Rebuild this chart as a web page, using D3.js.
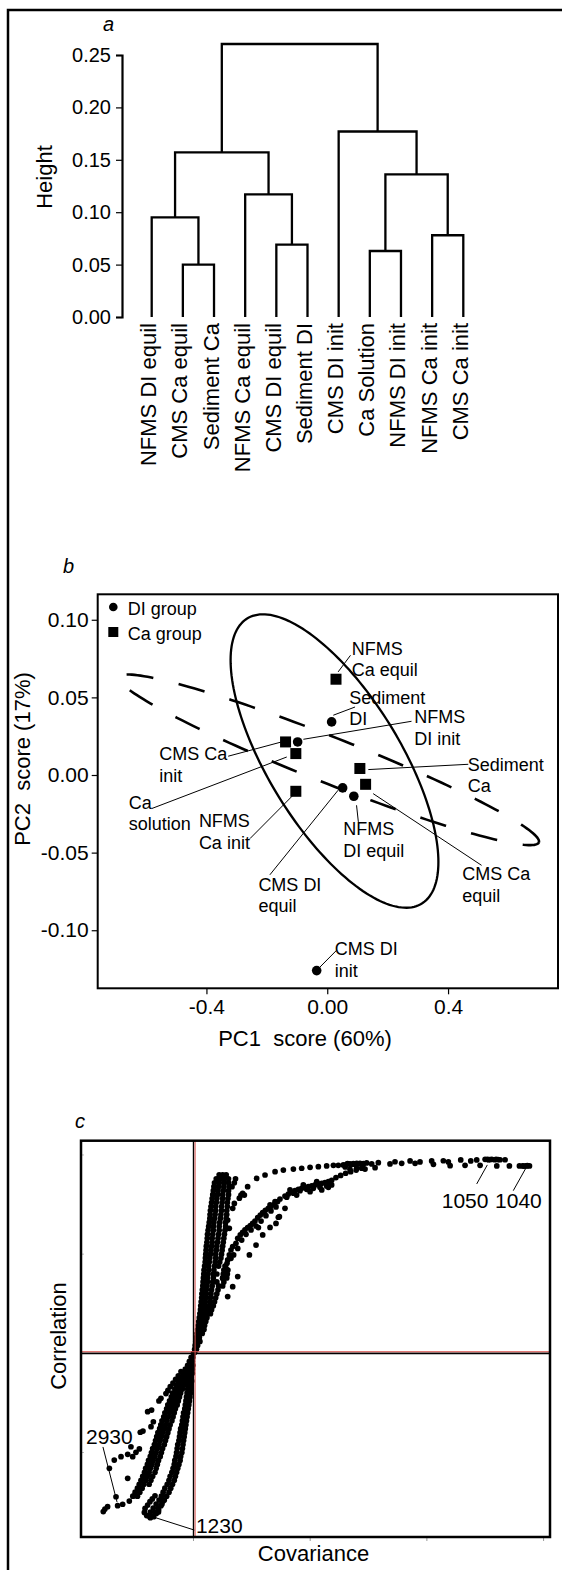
<!DOCTYPE html>
<html>
<head>
<meta charset="utf-8">
<script src="https://cdn.jsdelivr.net/npm/d3@7"></script>
<style>
  body { margin: 0; background: #fff; }
  svg text { font-family: "Liberation Sans", Arial, sans-serif; fill: #000; }
</style>
</head>
<body>
<svg id="fig" width="562" height="1570"></svg>
<script>
// ---------- panel a : dendrogram ----------
const leafNames = ["NFMS DI equil", "CMS Ca equil", "Sediment Ca", "NFMS Ca equil", "CMS DI equil",
  "Sediment DI", "CMS DI init", "Ca Solution", "NFMS DI init", "NFMS Ca init", "CMS Ca init"];
// hclust style: negative = leaf (1-based), positive = earlier merge
const mergePairs = [[-2, -3], [-5, -6], [-8, -9], [-10, -11], [-1, 1], [-4, 2], [3, 4], [5, 6], [-7, 7], [8, 9]];
const mergeHeights = [0.050, 0.069, 0.063, 0.078, 0.095, 0.117, 0.136, 0.157, 0.177, 0.2605];
const heightTicks = [0, 0.05, 0.10, 0.15, 0.20, 0.25];

// ---------- panel b : PCA scores ----------
const pcaNames = ["NFMS Ca equil", "Sediment DI", "CMS Ca init", "NFMS DI init", "Ca solution", "Sediment Ca",
  "CMS Ca equil", "NFMS Ca init", "CMS DI equil", "NFMS DI equil", "CMS DI init"];
const pcaGroup = ["Ca", "DI", "Ca", "DI", "Ca", "Ca", "Ca", "Ca", "DI", "DI", "DI"];
const pc1 = [0.029, 0.0145, -0.138, -0.098, -0.104, 0.108, 0.127, -0.104, 0.051, 0.088, -0.035];
const pc2 = [0.0617, 0.0342, 0.0213, 0.0213, 0.0138, 0.0042, -0.006, -0.0105, -0.0083, -0.0137, -0.126];
const pcaLabelLines = [["NFMS", "Ca equil"], ["Sediment", "DI"], ["CMS Ca", "init"], ["NFMS", "DI init"],
  ["Ca", "solution"], ["Sediment", "Ca"], ["CMS Ca", "equil"], ["NFMS", "Ca init"], ["CMS DI", "equil"],
  ["NFMS", "DI equil"], ["CMS DI", "init"]];
// label anchor and leader line, in score units
const pcaLabelAt = [[0.081, 0.0776], [0.073, 0.046], [-0.556, 0.0095], [0.288, 0.0332], [-0.657, -0.0216],
  [0.465, 0.0026], [0.447, -0.0678], [-0.425, -0.0335], [-0.228, -0.0747], [0.053, -0.0388], [0.025, -0.1161]];
const pcaLeader = [[0.036, 0.0664, 0.077, 0.0771], [0.02, 0.0385, 0.092, 0.0438], [-0.328, 0.0121, -0.151, 0.0213],
  [-0.079, 0.023, 0.279, 0.0346], [-0.581, -0.0216, -0.134, 0.0116], [0.136, 0.0035, 0.467, 0.0069],
  [0.152, -0.012, 0.511, -0.0582], [-0.256, -0.041, -0.113, -0.013], [-0.19, -0.0643, 0.036, -0.0098],
  [0.097, -0.0195, 0.103, -0.0302], [-0.024, -0.1237, 0.031, -0.1129]];
const pc1Ticks = [-0.4, 0, 0.4];
const pc1TickLabels = ["-0.4", "0.00", "0.4"];
const pc2Ticks = [0.10, 0.05, 0, -0.05, -0.10];
const pc2TickLabels = ["0.10", "0.05", "0.00", "-0.05", "-0.10"];
// ellipses: centre and two conjugate half-axes, score units
const solidEllipse = { c: [0.024, 0.009], u: [0.344, -0.065], v: [0, 0.0686] };
const dashEllipse = { c: [0.0056, 0.0098], u: [0.695, -0.0532], v: [-0.0278, -0.0138] };

// ---------- panel c : S-plot (covariance, correlation) ----------
const sUpperBand = [
  [0.000, 0.000], [0.010, 0.005],
  [0.010, 0.02], [0.025, 0.02],
  [0.015, 0.04], [0.035, 0.04],
  [0.02, 0.06], [0.04, 0.06], [0.055, 0.06],
  [0.025, 0.08], [0.05, 0.08],
  [0.03, 0.10], [0.055, 0.10], [0.075, 0.10],
  [0.035, 0.12], [0.06, 0.12], [0.09, 0.12],
  [0.04, 0.14], [0.07, 0.14], [0.095, 0.14],
  [0.045, 0.16], [0.075, 0.16], [0.105, 0.16],
  [0.05, 0.18], [0.08, 0.18], [0.115, 0.18],
  [0.055, 0.20], [0.085, 0.20], [0.12, 0.20], [0.145, 0.20],
  [0.06, 0.22], [0.09, 0.22], [0.125, 0.22], [0.155, 0.22],
  [0.062, 0.24], [0.095, 0.24], [0.13, 0.24], [0.17, 0.24],
  [0.066, 0.26], [0.1, 0.26], [0.14, 0.26], [0.18, 0.26],
  [0.07, 0.28], [0.105, 0.28], [0.145, 0.28], [0.19, 0.28],
  [0.072, 0.30], [0.11, 0.30], [0.15, 0.30], [0.2, 0.30],
  [0.076, 0.32], [0.11, 0.32], [0.155, 0.32], [0.21, 0.32],
  [0.08, 0.34], [0.115, 0.34], [0.16, 0.34], [0.215, 0.34], [0.25, 0.34],
  [0.082, 0.36], [0.12, 0.36], [0.165, 0.36], [0.2, 0.36], [0.26, 0.36],
  [0.085, 0.38], [0.12, 0.38], [0.17, 0.38], [0.25, 0.38], [0.285, 0.38],
  [0.088, 0.40], [0.125, 0.40], [0.17, 0.40], [0.2, 0.40], [0.255, 0.40], [0.29, 0.40],
  [0.09, 0.42], [0.13, 0.42], [0.175, 0.42], [0.26, 0.42], [0.295, 0.42],
  [0.095, 0.44], [0.13, 0.44], [0.18, 0.44], [0.215, 0.44], [0.27, 0.44],
  [0.1, 0.46], [0.135, 0.46], [0.185, 0.46], [0.225, 0.46],
  [0.102, 0.48], [0.14, 0.48], [0.19, 0.48], [0.235, 0.48],
  [0.105, 0.50], [0.145, 0.50], [0.19, 0.50], [0.24, 0.50],
  [0.108, 0.52], [0.15, 0.52], [0.195, 0.52], [0.245, 0.52],
  [0.11, 0.54], [0.155, 0.54], [0.2, 0.54], [0.25, 0.54],
  [0.115, 0.56], [0.16, 0.56], [0.205, 0.56], [0.255, 0.56],
  [0.118, 0.58], [0.16, 0.58], [0.21, 0.58], [0.26, 0.58],
  [0.12, 0.60], [0.165, 0.60], [0.215, 0.60], [0.265, 0.60],
  [0.125, 0.62], [0.17, 0.62], [0.22, 0.62], [0.27, 0.62],
  [0.13, 0.64], [0.17, 0.64], [0.22, 0.64], [0.275, 0.64],
  [0.135, 0.66], [0.175, 0.66], [0.225, 0.66], [0.275, 0.66],
  [0.14, 0.68], [0.18, 0.68], [0.23, 0.68], [0.28, 0.68],
  [0.142, 0.70], [0.185, 0.70], [0.235, 0.70], [0.285, 0.70],
  [0.145, 0.72], [0.19, 0.72], [0.24, 0.72], [0.285, 0.72],
  [0.15, 0.74], [0.19, 0.74], [0.24, 0.74], [0.29, 0.74],
  [0.155, 0.76], [0.195, 0.76], [0.245, 0.76], [0.29, 0.76],
  [0.16, 0.78], [0.2, 0.78], [0.25, 0.78], [0.295, 0.78],
  [0.165, 0.80], [0.205, 0.80], [0.25, 0.80], [0.3, 0.80],
  [0.17, 0.82], [0.21, 0.82], [0.255, 0.82], [0.3, 0.82],
  [0.175, 0.84], [0.215, 0.84], [0.26, 0.84], [0.305, 0.84], [0.33, 0.84],
  [0.18, 0.86], [0.22, 0.86], [0.26, 0.86], [0.3, 0.86], [0.35, 0.86],
  [0.195, 0.88], [0.23, 0.88], [0.265, 0.88], [0.3, 0.88], [0.36, 0.88],
  [0.22, 0.90], [0.25, 0.90], [0.28, 0.90],
  [0.336, 0.731], [0.35, 0.756], [0.307, 0.63], [0.293, 0.672], [0.393, 0.782], [0.407, 0.798],
  [0.436, 0.798], [0.421, 0.807]
];
const sMiddleCurve = [
  [0.25, 0.378], [0.264, 0.403], [0.279, 0.429], [0.287, 0.454],
  [0.293, 0.471], [0.307, 0.496], [0.321, 0.521], [0.336, 0.538], [0.364, 0.555], [0.379, 0.58],
  [0.401, 0.597], [0.421, 0.61], [0.441, 0.622], [0.464, 0.634], [0.487, 0.644], [0.507, 0.655],
  [0.527, 0.667], [0.55, 0.684], [0.573, 0.697], [0.593, 0.709], [0.616, 0.721], [0.641, 0.731],
  [0.664, 0.741], [0.693, 0.751], [0.721, 0.765],
  [0.321, 0.479], [0.344, 0.496], [0.379, 0.529], [0.413, 0.571], [0.45, 0.6], [0.493, 0.622],
  [0.536, 0.642], [0.579, 0.667], [0.621, 0.694], [0.664, 0.718], [0.707, 0.738],
  [0.656, 0.748], [0.699, 0.765], [0.741, 0.778], [0.784, 0.793], [0.813, 0.803], [0.841, 0.812],
  [0.87, 0.82], [0.899, 0.827], [0.927, 0.832], [0.956, 0.837], [0.984, 0.84], [1.013, 0.845],
  [1.041, 0.849], [1.07, 0.854], [1.099, 0.857], [1.127, 0.861], [1.156, 0.866], [1.184, 0.872],
  [1.221, 0.886], [1.261, 0.897], [1.304, 0.908], [1.347, 0.916], [1.394, 0.924], [1.441, 0.933],
  [0.799, 0.787], [0.856, 0.807], [0.913, 0.82], [0.97, 0.827], [1.027, 0.832], [1.084, 0.837],
  [1.141, 0.844], [1.184, 0.849], [0.827, 0.824], [0.941, 0.849], [1.056, 0.866], [0.884, 0.798],
  [0.999, 0.815], [1.099, 0.824], [1.156, 0.837],
  [0.727, 0.686], [0.784, 0.731], [0.656, 0.635],
  [0.293, 0.286], [0.336, 0.336], [0.379, 0.387], [0.479, 0.496], [0.536, 0.546], [0.593, 0.597],
  [0.556, 0.634], [0.707, 0.655], [0.736, 0.689]
];
const sTopCurve = [
  [0.464, 0.84], [0.541, 0.882], [0.613, 0.899], [0.699, 0.916], [0.77, 0.924], [0.856, 0.929],
  [0.927, 0.933], [0.999, 0.938], [1.07, 0.941], [1.141, 0.945], [1.199, 0.948], [1.241, 0.948],
  [1.284, 0.95], [1.313, 0.953], [1.32, 0.957], [1.341, 0.955], [1.35, 0.952], [1.37, 0.956],
  [1.38, 0.953], [1.399, 0.958], [1.41, 0.955], [1.427, 0.958], [1.456, 0.956], [1.484, 0.96],
  [1.527, 0.955], [1.584, 0.961], [1.684, 0.955], [1.727, 0.966], [1.784, 0.958], [1.856, 0.97],
  [1.899, 0.958], [1.941, 0.965], [2.041, 0.97], [2.056, 0.953], [2.141, 0.971], [2.184, 0.965],
  [2.199, 0.946], [2.29, 0.975], [2.327, 0.948], [2.376, 0.97], [2.427, 0.975], [2.456, 0.948],
  [2.499, 0.978], [2.52, 0.978], [2.527, 0.976], [2.54, 0.977], [2.556, 0.978], [2.58, 0.976],
  [2.593, 0.978], [2.61, 0.977], [2.627, 0.976], [2.67, 0.976], [2.599, 0.945], [2.707, 0.945],
  [2.793, 0.945], [2.821, 0.945], [2.83, 0.944], [2.85, 0.945], [2.86, 0.946], [2.879, 0.945],
  [1.341, 0.928], [1.399, 0.933], [1.47, 0.929], [1.556, 0.936], [1.30, 0.94], [1.45, 0.945]
];
const sLowerBands = [
  [-0.02, -0.02], [-0.005, -0.02],
  [-0.035, -0.04], [-0.01, -0.04],
  [-0.05, -0.06], [-0.02, -0.06], [-0.005, -0.06],
  [-0.07, -0.08], [-0.04, -0.08], [-0.01, -0.08],
  [-0.09, -0.10], [-0.06, -0.10], [-0.03, -0.10], [-0.01, -0.10],
  [-0.12, -0.12], [-0.09, -0.12], [-0.06, -0.12], [-0.02, -0.12],
  [-0.13, -0.14], [-0.10, -0.14], [-0.07, -0.14], [-0.04, -0.14], [-0.015, -0.14],
  [-0.15, -0.16], [-0.115, -0.16], [-0.08, -0.16], [-0.045, -0.16], [-0.02, -0.16],
  [-0.16, -0.18], [-0.125, -0.18], [-0.095, -0.18], [-0.05, -0.18], [-0.02, -0.18],
  [-0.18, -0.20], [-0.145, -0.20], [-0.11, -0.20], [-0.055, -0.20], [-0.025, -0.20],
  [-0.19, -0.22], [-0.155, -0.22], [-0.12, -0.22], [-0.06, -0.22], [-0.03, -0.22],
  [-0.205, -0.24], [-0.17, -0.24], [-0.13, -0.24], [-0.065, -0.24], [-0.035, -0.24],
  [-0.22, -0.26], [-0.18, -0.26], [-0.14, -0.26], [-0.07, -0.26], [-0.04, -0.26],
  [-0.23, -0.28], [-0.195, -0.28], [-0.155, -0.28], [-0.075, -0.28], [-0.045, -0.28],
  [-0.245, -0.30], [-0.205, -0.30], [-0.165, -0.30], [-0.085, -0.30], [-0.05, -0.30],
  [-0.255, -0.32], [-0.215, -0.32], [-0.175, -0.32], [-0.09, -0.32], [-0.055, -0.32],
  [-0.27, -0.34], [-0.23, -0.34], [-0.185, -0.34], [-0.095, -0.34], [-0.06, -0.34],
  [-0.28, -0.36], [-0.24, -0.36], [-0.2, -0.36], [-0.1, -0.36], [-0.065, -0.36],
  [-0.29, -0.38], [-0.25, -0.38], [-0.21, -0.38], [-0.11, -0.38], [-0.07, -0.38],
  [-0.305, -0.40], [-0.265, -0.40], [-0.22, -0.40], [-0.115, -0.40], [-0.075, -0.40],
  [-0.315, -0.42], [-0.275, -0.42], [-0.23, -0.42], [-0.12, -0.42], [-0.08, -0.42],
  [-0.325, -0.44], [-0.285, -0.44], [-0.24, -0.44], [-0.125, -0.44], [-0.085, -0.44],
  [-0.335, -0.46], [-0.295, -0.46], [-0.25, -0.46], [-0.135, -0.46], [-0.09, -0.46],
  [-0.35, -0.48], [-0.31, -0.48], [-0.265, -0.48], [-0.14, -0.48], [-0.095, -0.48],
  [-0.36, -0.50], [-0.32, -0.50], [-0.275, -0.50], [-0.145, -0.50], [-0.1, -0.50],
  [-0.37, -0.52], [-0.33, -0.52], [-0.285, -0.52], [-0.15, -0.52], [-0.11, -0.52],
  [-0.385, -0.54], [-0.345, -0.54], [-0.3, -0.54], [-0.16, -0.54], [-0.115, -0.54],
  [-0.395, -0.56], [-0.355, -0.56], [-0.31, -0.56], [-0.165, -0.56], [-0.125, -0.56],
  [-0.41, -0.58], [-0.37, -0.58], [-0.32, -0.58], [-0.175, -0.58], [-0.135, -0.58],
  [-0.42, -0.60], [-0.38, -0.60], [-0.33, -0.60], [-0.185, -0.60], [-0.145, -0.60],
  [-0.435, -0.62], [-0.395, -0.62], [-0.35, -0.62], [-0.2, -0.62], [-0.155, -0.62],
  [-0.45, -0.64], [-0.41, -0.64], [-0.365, -0.64], [-0.21, -0.64], [-0.165, -0.64],
  [-0.465, -0.66], [-0.425, -0.66], [-0.38, -0.66], [-0.225, -0.66], [-0.18, -0.66],
  [-0.48, -0.68], [-0.44, -0.68], [-0.245, -0.68], [-0.195, -0.68],
  [-0.5, -0.70], [-0.46, -0.70], [-0.26, -0.70], [-0.21, -0.70],
  [-0.52, -0.72], [-0.48, -0.72], [-0.275, -0.72], [-0.23, -0.72],
  [-0.295, -0.74], [-0.25, -0.74],
  [-0.32, -0.76], [-0.27, -0.76],
  [-0.345, -0.78], [-0.3, -0.78],
  [-0.37, -0.80], [-0.33, -0.80], [-0.3, -0.80],
  [-0.38, -0.82], [-0.355, -0.82],
  [-0.415, -0.782], [-0.421, -0.802], [-0.401, -0.818], [-0.37, -0.829], [-0.341, -0.824],
  [-0.319, -0.807], [-0.299, -0.79], [-0.279, -0.768], [-0.261, -0.745], [-0.393, -0.765],
  [-0.373, -0.748], [-0.353, -0.734], [-0.33, -0.718]
];
const sLowerSparse = [
  [-0.107, -0.092], [-0.13, -0.113], [-0.153, -0.131], [-0.176, -0.15], [-0.199, -0.168],
  [-0.219, -0.187], [-0.236, -0.203], [-0.279, -0.227], [-0.296, -0.24], [-0.359, -0.286],
  [-0.393, -0.294], [-0.344, -0.345], [-0.433, -0.392], [-0.456, -0.398], [-0.364, -0.37],
  [-0.464, -0.482], [-0.493, -0.499], [-0.536, -0.471], [-0.521, -0.521], [-0.564, -0.509],
  [-0.621, -0.521], [-0.679, -0.538], [-0.721, -0.58], [-0.564, -0.63], [-0.664, -0.723],
  [-0.607, -0.761], [-0.65, -0.768], [-0.55, -0.745], [-0.507, -0.718], [-0.759, -0.785],
  [-0.736, -0.773], [-0.773, -0.798]
];
// labelled variables in the S-plot
const sLabels = [
  { text: "1050", at: [2.127, 0.731], leader: [2.427, 0.854, 2.518, 0.95] },
  { text: "1040", at: [2.584, 0.731], leader: [2.74, 0.82, 2.855, 0.941] },
  { text: "2930", at: [-0.921, -0.457], leader: [-0.776, -0.472, -0.655, -0.75] },
  { text: "1230", at: [0.021, -0.905], leader: [-0.35, -0.824, 0.007, -0.891] }
];
const covTicks = [0, 1, 2, 3];
const corrTicks = [1, 0.5, -0.5];

const svg = d3.select("#fig");

// outer frame of the figure (right and bottom edges fall outside the page)
svg.append("rect")
  .attr("x", 8).attr("y", 10).attr("width", 640).attr("height", 1640)
  .attr("fill", "none").attr("stroke", "#000").attr("stroke-width", 2.5);

function panelLetter(t, x, y) {
  svg.append("text").attr("x", x).attr("y", y)
    .style("font-size", "20px").style("font-style", "italic").text(t);
}

// ================= a =================
panelLetter("a", 103, 31);

const aX = d3.scalePoint().domain(leafNames).range([151.7, 463.3]);
const aY = d3.scaleLinear().domain([0, 0.25]).range([317, 55]);

const nodePos = [];
function childPos(k) {
  return k < 0 ? { x: aX(leafNames[-k - 1]), h: 0 } : nodePos[k - 1];
}
const gDend = svg.append("g");
mergePairs.forEach((pair, i) => {
  const a = childPos(pair[0]);
  const b = childPos(pair[1]);
  const h = mergeHeights[i];
  nodePos.push({ x: (a.x + b.x) / 2, h: h });
  gDend.append("path")
    .attr("d", `M${a.x},${aY(a.h)}V${aY(h)}H${b.x}V${aY(b.h)}`)
    .attr("fill", "none").attr("stroke", "#000").attr("stroke-width", 2.3);
});

const gAy = svg.append("g")
  .attr("transform", "translate(122,0)")
  .call(d3.axisLeft(aY).tickValues(heightTicks).tickFormat(d3.format(".2f"))
    .tickSize(6).tickPadding(5));
gAy.select(".domain").attr("stroke-width", 2.2);
gAy.selectAll(".tick line").attr("stroke-width", 1.2);
gAy.selectAll("text").style("font-size", "20px");

svg.append("text")
  .attr("transform", "translate(52,177) rotate(-90)")
  .attr("text-anchor", "middle").style("font-size", "22px").text("Height");

svg.append("g").selectAll("text").data(leafNames).join("text")
  .attr("transform", d => `translate(${aX(d) + 4.5},323) rotate(-90)`)
  .attr("text-anchor", "end").style("font-size", "22px")
  .text(d => d);

// ================= b =================
panelLetter("b", 63, 573);

const bLeft = 97.7, bRight = 558, bTop = 594.3, bBottom = 988.3;
const bX = d3.scaleLinear().domain([-0.76, 0.764]).range([bLeft, bRight]);
const bY = d3.scaleLinear().domain([0.1164, -0.1374]).range([bTop, bBottom]);

const gBy = svg.append("g").attr("transform", `translate(${bLeft},0)`)
  .call(d3.axisLeft(bY).tickValues(pc2Ticks).tickFormat((d, i) => pc2TickLabels[i]).tickSize(6).tickPadding(3));
const gBx = svg.append("g").attr("transform", `translate(0,${bBottom})`)
  .call(d3.axisBottom(bX).tickValues(pc1Ticks).tickFormat((d, i) => pc1TickLabels[i]).tickSize(6).tickPadding(5));
[gBy, gBx].forEach(g => {
  g.select(".domain").remove();
  g.selectAll(".tick line").attr("stroke-width", 1.2);
  g.selectAll("text").style("font-size", "21px");
});

svg.append("text").attr("x", 305).attr("y", 1046)
  .attr("text-anchor", "middle").style("font-size", "22px").style("white-space", "pre")
  .text("PC1  score (60%)");
svg.append("text").attr("transform", "translate(30,759) rotate(-90)")
  .attr("text-anchor", "middle").style("font-size", "22px").style("white-space", "pre")
  .text("PC2  score (17%)");

function ellipsePath(e) {
  const pts = d3.range(0, 361, 2).map(deg => {
    const t = deg * Math.PI / 180;
    return [e.c[0] + e.u[0] * Math.cos(t) + e.v[0] * Math.sin(t),
            e.c[1] + e.u[1] * Math.cos(t) + e.v[1] * Math.sin(t)];
  });
  return d3.line().x(d => bX(d[0])).y(d => bY(d[1]))(pts);
}
svg.append("path").attr("d", ellipsePath(dashEllipse))
  .attr("fill", "none").attr("stroke", "#000").attr("stroke-width", 2.6)
  .attr("stroke-dasharray", "27,26").attr("stroke-dashoffset", 10);
svg.append("path").attr("d", ellipsePath(solidEllipse))
  .attr("fill", "none").attr("stroke", "#000").attr("stroke-width", 2.3);

// leaders
svg.append("g").selectAll("line").data(pcaLeader).join("line")
  .attr("x1", d => bX(d[0])).attr("y1", d => bY(d[1]))
  .attr("x2", d => bX(d[2])).attr("y2", d => bY(d[3]))
  .attr("stroke", "#000").attr("stroke-width", 1);

// markers
const gMarks = svg.append("g");
pcaNames.forEach((n, i) => {
  const x = bX(pc1[i]), y = bY(pc2[i]);
  if (pcaGroup[i] === "DI") {
    gMarks.append("circle").attr("cx", x).attr("cy", y).attr("r", 4.8).attr("fill", "#000");
  } else {
    gMarks.append("rect").attr("x", x - 5.5).attr("y", y - 5.5).attr("width", 11).attr("height", 11).attr("fill", "#000");
  }
});

// labels
const gLab = svg.append("g");
pcaNames.forEach((n, i) => {
  const t = gLab.append("text")
    .attr("x", bX(pcaLabelAt[i][0])).attr("y", bY(pcaLabelAt[i][1]))
    .style("font-size", "18px");
  pcaLabelLines[i].forEach((line, j) => {
    t.append("tspan").attr("x", bX(pcaLabelAt[i][0])).attr("dy", j === 0 ? 0 : 21.5).text(line);
  });
});

// legend
svg.append("circle").attr("cx", 113.3).attr("cy", 607).attr("r", 4.3).attr("fill", "#000");
svg.append("text").attr("x", 127.7).attr("y", 615).style("font-size", "18px").text("DI group");
svg.append("rect").attr("x", 108.3).attr("y", 627).attr("width", 10).attr("height", 10).attr("fill", "#000");
svg.append("text").attr("x", 127.7).attr("y", 640).style("font-size", "18px").text("Ca group");

svg.append("rect").attr("x", bLeft).attr("y", bTop)
  .attr("width", bRight - bLeft).attr("height", bBottom - bTop)
  .attr("fill", "none").attr("stroke", "#000").attr("stroke-width", 2);

// ================= c =================
panelLetter("c", 75, 1128);

const cLeft = 81, cRight = 550, cTop = 1140.7, cBottom = 1537;
const cX = d3.scaleLinear().domain([-0.964, 3.055]).range([cLeft, cRight]);
const cY = d3.scaleLinear().domain([1.072, -0.926]).range([cTop, cBottom]);

// zero lines
svg.append("line").attr("x1", cX(0)).attr("x2", cX(0)).attr("y1", cTop).attr("y2", cBottom)
  .attr("stroke", "#000").attr("stroke-width", 1.4);
svg.append("line").attr("x1", cLeft).attr("x2", cRight).attr("y1", cY(0)).attr("y2", cY(0))
  .attr("stroke", "#000").attr("stroke-width", 1.6);

const allS = sUpperBand.concat(sMiddleCurve, sTopCurve, sLowerBands, sLowerSparse);
svg.append("g").selectAll("circle").data(allS).join("circle")
  .attr("cx", d => cX(d[0])).attr("cy", d => cY(d[1])).attr("r", 2.85).attr("fill", "#000");

svg.append("line").attr("x1", cX(0) + 1.6).attr("x2", cX(0) + 1.6).attr("y1", cTop).attr("y2", cBottom)
  .attr("stroke", "#d9534f").attr("stroke-width", 1);
svg.append("line").attr("x1", cLeft).attr("x2", cRight).attr("y1", cY(0) - 1.6).attr("y2", cY(0) - 1.6)
  .attr("stroke", "#d9534f").attr("stroke-width", 1);

// labels of variables
svg.append("g").selectAll("line").data(sLabels).join("line")
  .attr("x1", d => cX(d.leader[0])).attr("y1", d => cY(d.leader[1]))
  .attr("x2", d => cX(d.leader[2])).attr("y2", d => cY(d.leader[3]))
  .attr("stroke", "#000").attr("stroke-width", 1);
svg.append("g").selectAll("text").data(sLabels).join("text")
  .attr("x", d => cX(d.at[0])).attr("y", d => cY(d.at[1]))
  .style("font-size", "21px").text(d => d.text);

// faint ticks
svg.append("g").selectAll("line").data(covTicks).join("line")
  .attr("x1", d => cX(d)).attr("x2", d => cX(d)).attr("y1", cBottom).attr("y2", cBottom + 4)
  .attr("stroke", "#999").attr("stroke-width", 1);
svg.append("g").selectAll("line").data(corrTicks).join("line")
  .attr("x1", cLeft).attr("x2", cLeft + 3).attr("y1", d => cY(d)).attr("y2", d => cY(d))
  .attr("stroke", "#bbb").attr("stroke-width", 1);

svg.append("rect").attr("x", cLeft).attr("y", cTop)
  .attr("width", cRight - cLeft).attr("height", cBottom - cTop)
  .attr("fill", "none").attr("stroke", "#000").attr("stroke-width", 2.5);

svg.append("text").attr("transform", "translate(66,1336) rotate(-90)")
  .attr("text-anchor", "middle").style("font-size", "22px").text("Correlation");
svg.append("text").attr("x", 313.5).attr("y", 1561)
  .attr("text-anchor", "middle").style("font-size", "22px").text("Covariance");
</script>
</body>
</html>
